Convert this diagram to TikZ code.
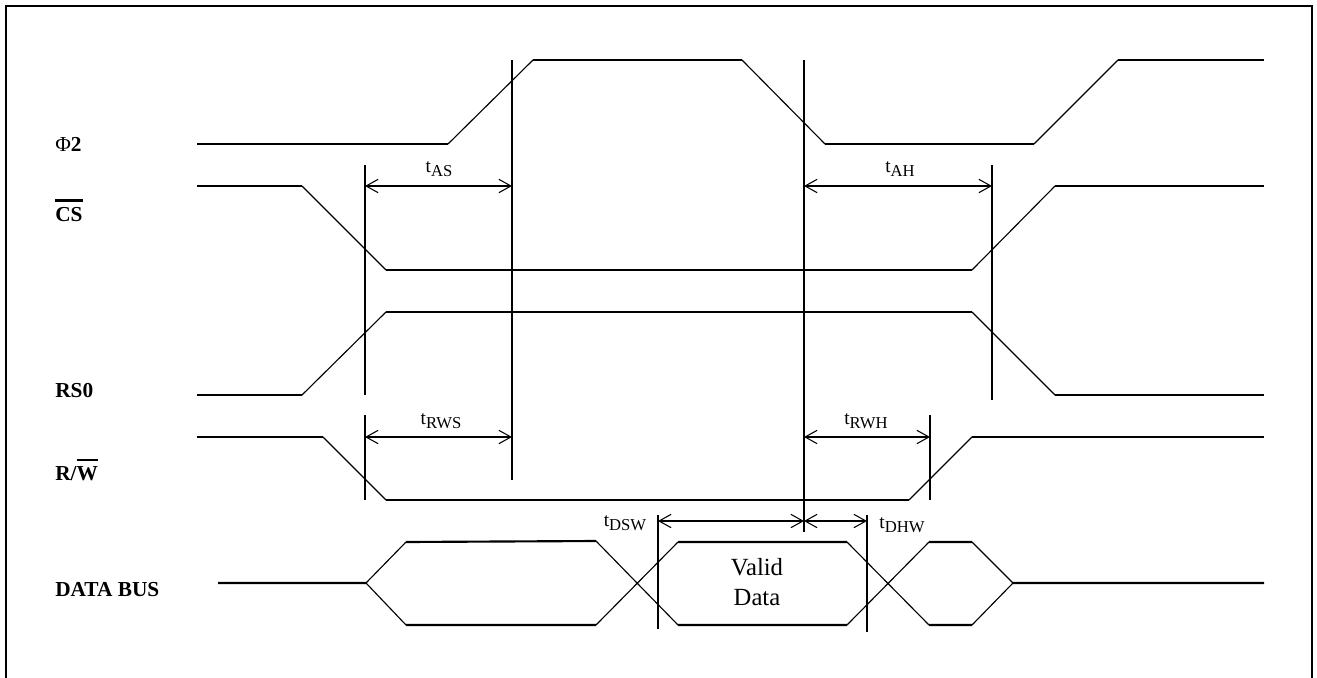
\documentclass[tikz,border=0pt]{standalone}
\usepackage{fontspec}
\setmainfont{Liberation Serif}
\usetikzlibrary{arrows.meta}

% bar over an active-low signal name
\newcommand{\sigbar}[1]{\setbox0\hbox{#1}\rlap{\rule[\dimexpr\ht0+4pt\relax]{\wd0}{1.6pt}}\box0}
% timing parameter with lowered index
\newcommand{\tsub}[2]{#1\raisebox{-3.5pt}{\fontsize{12.5}{13}\selectfont #2}}

\tikzset{
  frame/.style={line width=1.7pt},
  level/.style={line width=1.6pt},
  edge/.style={line width=0.85pt},
  marker/.style={line width=1.6pt},
  dim/.style={{Straight Barb[length=9pt,width=10pt,line width=0.8pt]}-{Straight Barb[length=9pt,width=10pt,line width=0.8pt]},line width=1.1pt},
  siglabel/.style={anchor=base west,inner sep=0pt,font=\fontsize{16}{18}\selectfont\bfseries},
  tlabel/.style={anchor=base,inner sep=0pt,font=\fontsize{14.5}{16}\selectfont},
}

\begin{document}
\begin{tikzpicture}[x=0.75pt,y=0.75pt,yscale=-1,xscale=1]
\useasboundingbox (0,0) rectangle (1317,678);

%Frame
\draw[frame] (6,678) -- (6,6) -- (1312,6) -- (1312,678);

%Signal: Phi2
\draw[level] (197,144) -- (448,144) (533,60) -- (742,60) (825,144) -- (1034,144) (1118,60) -- (1264,60);
\draw[edge] (448,144) -- (533,60) (742,60) -- (825,144) (1034,144) -- (1118,60);
%Signal: CS
\draw[level] (197,186) -- (302,186) (386,270) -- (972,270) (1055,186) -- (1264,186);
\draw[edge] (302,186) -- (386,270) (972,270) -- (1055,186);
%Signal: RS0
\draw[level] (197,395) -- (302,395) (386,312) -- (972,312) (1055,395) -- (1264,395);
\draw[edge] (302,395) -- (386,312) (972,312) -- (1055,395);
%Signal: R/W
\draw[level] (197,437) -- (323,437) (386,500) -- (909,500) (972,437) -- (1264,437);
\draw[edge] (323,437) -- (386,500) (909,500) -- (972,437);
%Signal: data bus
\draw[level] (218,583) -- (366,583) (406,542) -- (596,541) (406,625) -- (596,625) (678,542) -- (847,542) (678,625) -- (847,625) (929,542) -- (972,542) (929,625) -- (972,625) (1013,583) -- (1264,583);
\draw[edge] (366,583) -- (406,542) (366,583) -- (406,625) (596,541) -- (678,625) (596,625) -- (678,542) (847,542) -- (929,625) (847,625) -- (929,542) (972,542) -- (1013,583) (972,625) -- (1013,583);

%Reference lines
\coordinate (cs0) at (365,165);
\coordinate (ph1) at (512,60);
\coordinate (ph2) at (804,60);
\coordinate (cs1) at (992,165);
\coordinate (rw1) at (930,415);
\coordinate (ds0) at (658,515);
\coordinate (dh1) at (867,515);
\draw[marker] (cs0) -- (365,395) (365,415) -- (365,500);
\draw[marker] (ph1) -- (512,480);
\draw[marker] (ph2) -- (804,532);
\draw[marker] (cs1) -- (992,400);
\draw[marker] (rw1) -- (930,500);
\draw[marker] (ds0) -- (658,629);
\draw[marker] (dh1) -- (867,632);

%Timing arrows
\coordinate (ya) at (0,186);
\coordinate (yr) at (0,437);
\coordinate (yd) at (0,521);
\draw[dim] (cs0 |- ya) -- (ph1 |- ya);
\draw[dim] (ph2 |- ya) -- (cs1 |- ya);
\draw[dim] (cs0 |- yr) -- (ph1 |- yr);
\draw[dim] (ph2 |- yr) -- (rw1 |- yr);
\draw[dim] (ds0 |- yd) -- (ph2 |- yd);
\draw[dim] (ph2 |- yd) -- (dh1 |- yd);

% Text Node
\node[siglabel] (lphi) at (55,151) {\mdseries Φ\bfseries 2};
\node[siglabel] (lcs) at (55,221) {\sigbar{CS}};
\node[siglabel] (lrs) at (55,397) {RS0};
\node[siglabel] (lrw) at (55,480) {R/\sigbar{W}};
\node[siglabel] (ldb) at (55,596) {DATA BUS};
% Text Node
\node[tlabel] (tas) at (439,172) {\tsub{t}{AS}};
\node[tlabel] (tah) at (900,172) {\tsub{t}{AH}};
\node[tlabel] (trws) at (441,424) {\tsub{t}{RWS}};
\node[tlabel] (trwh) at (866,424) {\tsub{t}{RWH}};
\node[tlabel] (tdsw) at (625,526) {\tsub{t}{DSW}};
\node[tlabel] (tdhw) at (902,528) {\tsub{t}{DHW}};
% Text Node
\node[align=center,inner sep=0pt,font=\fontsize{18.5}{22.5}\selectfont] (vd) at (757,582) {Valid\\Data};

\end{tikzpicture}
\end{document}
